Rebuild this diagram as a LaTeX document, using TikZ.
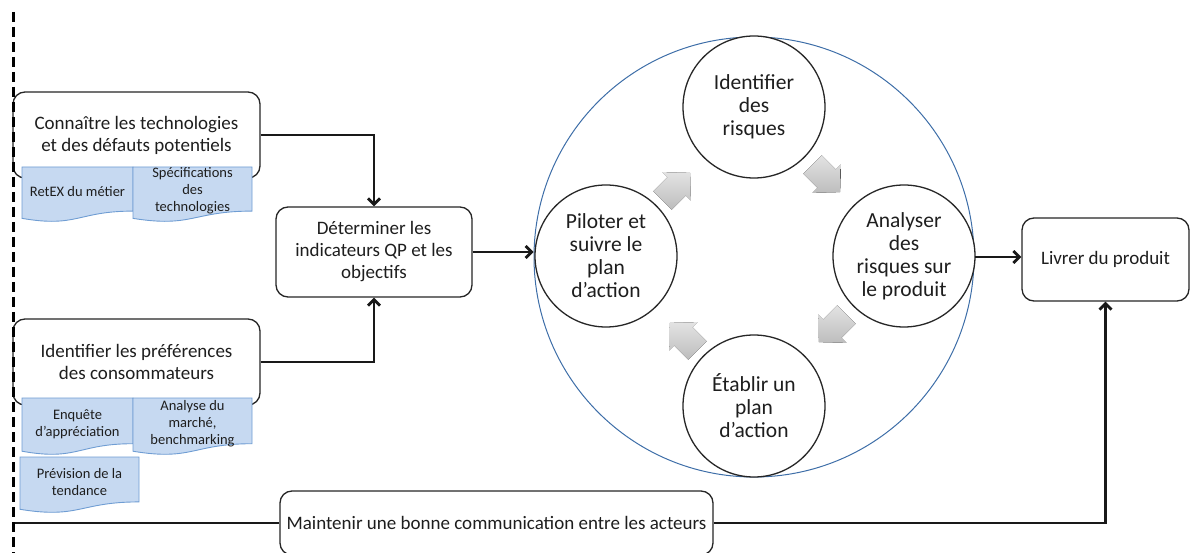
\documentclass[tikz,border=0pt]{standalone}
\usepackage{fontspec}
\setmainfont{Carlito}
\usetikzlibrary{arrows.meta,calc}
\definecolor{docfill}{HTML}{C6D9F1}
\definecolor{docline}{HTML}{6F9DD3}
\definecolor{ringblue}{HTML}{3E6EA8}
\definecolor{ink}{HTML}{1E1E1E}
% #1 name, #2 x, #3 y (top), #4 width, #5 height, #6 text offset from top, #7 text
\newcommand{\docbox}[7]{%
  \filldraw[fill=docfill, draw=docline, line width=0.9pt]
    (#2,#3) -- ({#2+#4},#3) -- ({#2+#4},{#3+0.802*#5})
    .. controls ({#2+0.5*#4},{#3+0.802*#5}) and ({#2+0.5*#4},{#3+1.1075*#5}) .. (#2,{#3+0.934*#5}) -- cycle;
  \node[doctext] (#1) at ({#2+0.5*#4},{#3+#6}) {#7};
}
\newcommand{\cyclearr}[3]{%
  \begin{scope}[shift={(#1,#2)}, rotate=#3]
    \fill[cyclearrow] (-19,-13) -- (1,-13) -- (1,-20) -- (20,0) -- (1,20) -- (1,13) -- (-19,13) -- cycle;
  \end{scope}
}
\begin{document}
\begin{tikzpicture}[x=1pt,y=-1pt,
  box/.style={draw=black!85, fill=white, line width=1.3pt, rounded corners=12pt, align=center, text=ink, font=\fontsize{19}{22}\selectfont, inner sep=0pt},
  circ/.style={draw=black!85, fill=white, line width=1.3pt, circle, minimum size=142pt, align=center, text=ink, font=\fontsize{21.5}{23}\selectfont, inner sep=0pt},
  doctext/.style={align=center, text=ink, font=\fontsize{14.5}{17}\selectfont, inner sep=0pt},
  conn/.style={line width=2.8pt, draw=black!90, -{Straight Barb[length=6pt,width=12pt]}},
  link/.style={line width=2.8pt, draw=black!90},
  cyclearrow/.style={top color=black!11, bottom color=black!26, draw=none},
]
\useasboundingbox (0,0) rectangle (1192,553);

% big ring
\node[draw=ringblue, line width=1pt, circle, minimum size=440pt, inner sep=0pt] (ring) at (754,257) {};

% cycle arrows
\cyclearr{676}{187}{45}
\cyclearr{826}{178}{-45}
\cyclearr{833}{328}{-135}
\cyclearr{684}{337}{135}

% circles
\node[circ] (ident) at (754,107) {Identifier\\des\\risques};
\node[circ] (analy) at (904,256) {Analyser\\des\\risques sur\\le produit};
\node[circ] (etab) at (754,406) {Établir un\\plan\\d’action};
\node[circ] (pilot) at (606,256) {Piloter et\\suivre le\\plan\\d’action};

% boxes
\node[box, minimum width=247pt, minimum height=86pt] (tech) at (136.5,135) {Connaître les technologies\\et des défauts potentiels};
\node[box, minimum width=247pt, minimum height=86pt] (pref) at (136.5,362) {Identifier les préférences\\des consommateurs};
\node[box, minimum width=196pt, minimum height=90pt] (det) at (374,252) {Déterminer les\\indicateurs QP et les\\objectifs};
\node[box, minimum width=167pt, minimum height=83pt] (livrer) at (1105.5,259.5) {Livrer du produit};
\node[box, minimum width=433pt, minimum height=64pt] (maint) at (496.5,523) {Maintenir une bonne communication entre les acteurs};

% documents
\docbox{retex}{22}{167}{111}{55}{25}{RetEX du métier}
\docbox{spec}{133}{167}{119}{55}{24}{Spécifications\\des\\technologies}
\docbox{enq}{22}{398}{111}{57}{26.5}{Enquête\\d’appréciation}
\docbox{anal}{133}{398}{119}{57}{26}{Analyse du\\marché,\\benchmarking}
\docbox{prev}{20}{457}{119}{56}{25.5}{Prévision de la\\tendance}

% connectors
\draw[conn] (tech.east) -| (det.north);
\draw[conn] (pref.east) -| (det.south);
\draw[conn] (det.east) -- (det.east -| ring.west);
\draw[conn] (ring.east) -- (ring.east -| livrer.west);
\coordinate (lt) at (13,523);
\draw[link] (lt) -- (lt -| maint.west);
\draw[conn] (maint.east) -| (livrer.south);

% dashed boundary
\coordinate (dtop) at (13,12);
\coordinate (dbot) at (13,553);
\draw[line width=3pt, dash pattern=on 10pt off 5pt] (dtop) -- (dbot);
\end{tikzpicture}
\end{document}
